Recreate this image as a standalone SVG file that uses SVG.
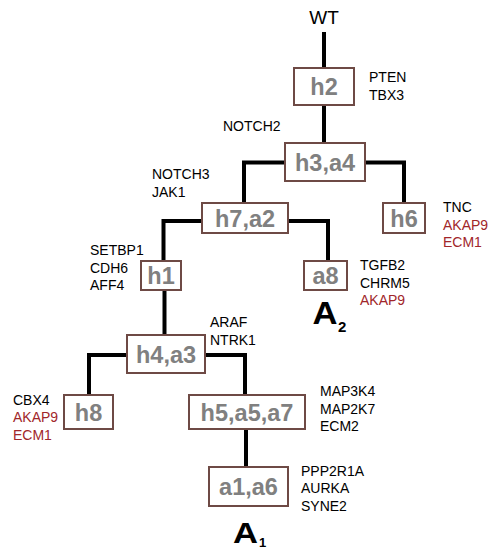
<svg xmlns="http://www.w3.org/2000/svg" width="494" height="551" viewBox="0 0 494 551">
  <style>
    .box { fill: #ffffff; stroke: #6e4a45; stroke-width: 2; }
    .lbl { font-family: "Liberation Sans", Arial, sans-serif; font-weight: bold; font-size: 23.5px; fill: #808080; text-anchor: middle; }
    .gene { font-family: "Liberation Sans", Arial, sans-serif; font-size: 14px; fill: #000000; }
    .red { fill: #a1262a; }
    .edge { fill: none; stroke: #000000; stroke-width: 4; stroke-linejoin: miter; stroke-linecap: butt; }
    .big { font-family: "Liberation Sans", Arial, sans-serif; font-weight: bold; fill: #000000; }
  </style>

  <!-- tree branches -->
  <g id="connectors">
    <path class="edge" d="M324 32 V68"/>
    <path class="edge" d="M324 105 V143"/>
    <path class="edge" d="M285 162.5 H244 V203"/>
    <path class="edge" d="M365 162.5 H404 V203"/>
    <path class="edge" d="M202 221 H163.5 V261"/>
    <path class="edge" d="M288 221 H328 V261"/>
    <path class="edge" d="M164.5 290 V335"/>
    <path class="edge" d="M127 355 H89 V395"/>
    <path class="edge" d="M205 355 H245 V395"/>
    <path class="edge" d="M246 429 V467"/>
  </g>

  <g id="root">
    <text x="324" y="24" font-family="Liberation Sans, Arial, sans-serif" font-size="19" text-anchor="middle">WT</text>
  </g>

  <g id="node-h2">
    <rect class="box" x="294" y="68" width="60" height="37"/>
    <text class="lbl" x="324" y="95">h2</text>
    <text class="gene" x="369" y="82">PTEN</text>
    <text class="gene" x="369" y="99.5">TBX3</text>
  </g>

  <g id="node-h3a4">
    <rect class="box" x="285" y="143" width="80" height="38"/>
    <text class="lbl" x="325" y="170.5">h3,a4</text>
    <text class="gene" x="223" y="131">NOTCH2</text>
  </g>

  <g id="node-h7a2">
    <rect class="box" x="202" y="203" width="86" height="30"/>
    <text class="lbl" x="245" y="226.5">h7,a2</text>
    <text class="gene" x="152" y="179">NOTCH3</text>
    <text class="gene" x="152" y="196.5">JAK1</text>
  </g>

  <g id="node-h6">
    <rect class="box" x="383" y="203" width="42" height="30"/>
    <text class="lbl" x="404" y="226.5">h6</text>
    <text class="gene" x="443" y="212">TNC</text>
    <text class="gene red" x="443" y="229.5">AKAP9</text>
    <text class="gene red" x="443" y="247">ECM1</text>
  </g>

  <g id="node-h1">
    <rect class="box" x="141" y="261" width="40" height="29"/>
    <text class="lbl" x="161" y="284">h1</text>
    <text class="gene" x="90" y="255">SETBP1</text>
    <text class="gene" x="90" y="272.5">CDH6</text>
    <text class="gene" x="90" y="290">AFF4</text>
  </g>

  <g id="node-a8">
    <rect class="box" x="304" y="261" width="43" height="29"/>
    <text class="lbl" x="325.5" y="284">a8</text>
    <text class="gene" x="360" y="270">TGFB2</text>
    <text class="gene" x="360" y="287.5">CHRM5</text>
    <text class="gene red" x="360" y="305">AKAP9</text>
  </g>

  <g id="clone-A2">
    <text class="big" x="312.5" y="324" font-size="32" textLength="25" lengthAdjust="spacingAndGlyphs">A</text>
    <text class="big" x="338" y="332" font-size="15">2</text>
  </g>

  <g id="node-h4a3">
    <rect class="box" x="127" y="335" width="78" height="38"/>
    <text class="lbl" x="166" y="362.5">h4,a3</text>
    <text class="gene" x="210" y="327">ARAF</text>
    <text class="gene" x="210" y="345">NTRK1</text>
  </g>

  <g id="node-h8">
    <rect class="box" x="64" y="395" width="49" height="34"/>
    <text class="lbl" x="88.5" y="420.5">h8</text>
    <text class="gene" x="13" y="404.5">CBX4</text>
    <text class="gene red" x="13" y="422">AKAP9</text>
    <text class="gene red" x="13" y="439.5">ECM1</text>
  </g>

  <g id="node-h5a5a7">
    <rect class="box" x="189" y="395" width="116" height="34"/>
    <text class="lbl" x="247" y="420.5">h5,a5,a7</text>
    <text class="gene" x="320" y="396">MAP3K4</text>
    <text class="gene" x="320" y="413.5">MAP2K7</text>
    <text class="gene" x="320" y="431">ECM2</text>
  </g>

  <g id="node-a1a6">
    <rect class="box" x="209" y="467" width="79" height="39"/>
    <text class="lbl" x="248.5" y="495">a1,a6</text>
    <text class="gene" x="301" y="476">PPP2R1A</text>
    <text class="gene" x="301" y="493">AURKA</text>
    <text class="gene" x="301" y="510.5">SYNE2</text>
  </g>

  <g id="clone-A1">
    <text class="big" x="233" y="543" font-size="30" textLength="25" lengthAdjust="spacingAndGlyphs">A</text>
    <text class="big" x="259" y="547" font-size="13">1</text>
  </g>
</svg>
